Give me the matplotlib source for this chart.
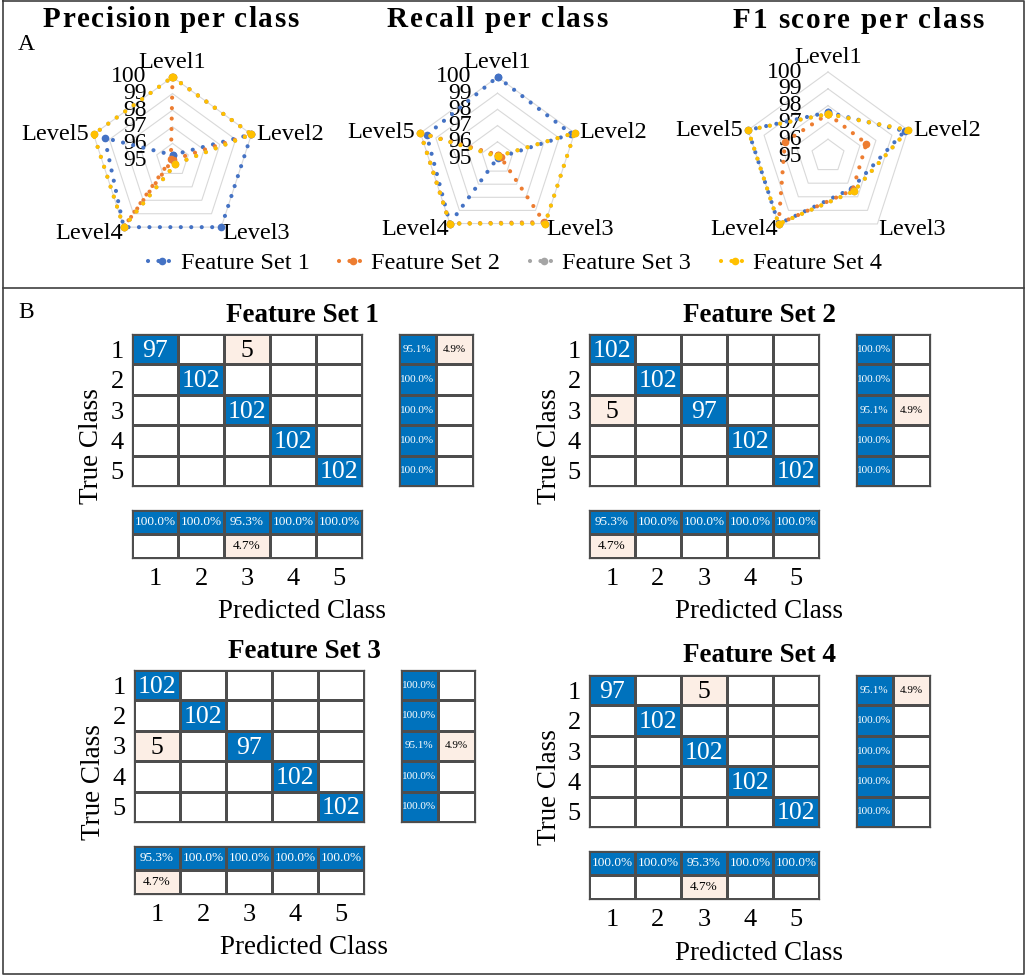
import numpy as np
import matplotlib
matplotlib.use("Agg")
import matplotlib.pyplot as plt
from matplotlib.colors import ListedColormap
from matplotlib.font_manager import FontProperties, findfont, get_font

plt.rcParams['font.family'] = ['Liberation Serif', 'DejaVu Serif']

W, H = 1026, 975

# ---- radar data (A) ----
levels = ['Level1', 'Level2', 'Level3', 'Level4', 'Level5']
set_names = ['Feature Set 1', 'Feature Set 2', 'Feature Set 3', 'Feature Set 4']
set_colors = ['#4472C4', '#ED7D31', '#A5A5A5', '#FFC000']
scale_ticks = [95, 96, 97, 98, 99, 100]

precision_fs1 = [95.3, 100, 100, 100, 99.3]
precision_fs2 = [100, 100, 95.0, 100, 95.1]
precision_fs3 = [100, 100, 95.3, 100, 100]
precision_fs4 = [100, 100, 95.3, 100, 100]

recall_fs1 = [100, 99.8, 95.0, 100, 99.6]
recall_fs2 = [95.2, 95.2, 99.9, 100, 100]
recall_fs3 = [95.1, 100, 100, 100, 100]
recall_fs4 = [95.1, 100, 100, 100, 100]

f1_fs1 = [97.6, 99.8, 97.4, 100, 100]
f1_fs2 = [97.5, 97.4, 97.5, 100, 97.7]
f1_fs3 = [97.5, 100, 97.6, 100, 100]
f1_fs4 = [97.5, 100, 97.6, 100, 100]

# ---- confusion matrices (B) ----
classes = ['1', '2', '3', '4', '5']
cm_fs1 = [[97, 0, 5, 0, 0],
          [0, 102, 0, 0, 0],
          [0, 0, 102, 0, 0],
          [0, 0, 0, 102, 0],
          [0, 0, 0, 0, 102]]
cm_fs2 = [[102, 0, 0, 0, 0],
          [0, 102, 0, 0, 0],
          [5, 0, 97, 0, 0],
          [0, 0, 0, 102, 0],
          [0, 0, 0, 0, 102]]
cm_fs3 = [[102, 0, 0, 0, 0],
          [0, 102, 0, 0, 0],
          [5, 0, 97, 0, 0],
          [0, 0, 0, 102, 0],
          [0, 0, 0, 0, 102]]
cm_fs4 = [[97, 0, 5, 0, 0],
          [0, 102, 0, 0, 0],
          [0, 0, 102, 0, 0],
          [0, 0, 0, 102, 0],
          [0, 0, 0, 0, 102]]

BLUE = '#0072BD'
PINK = '#FCEEE5'
GRIDC = '#4D4D4D'

fig = plt.figure(figsize=(W / 100, H / 100), dpi=100)


def box(left, top, width, height):
    # pixel box (from top-left) -> figure fraction
    return [left / W, 1 - (top + height) / H, width / W, height / H]


def fxy(x, y):
    return x / W, 1 - y / H


# frame and divider
frame = fig.add_axes([0, 0, 1, 1])
frame.set_xlim(0, W)
frame.set_ylim(H, 0)
frame.axis('off')
frame.plot([2.5, 1023.5, 1023.5, 2.5, 2.5], [1, 1, 973.5, 973.5, 1], color='#404040', lw=1.2)
frame.plot([2.5, 1023.5], [288, 288], color='#404040', lw=1.2)
fig.text(*fxy(18, 44), 'A', fontsize=17, va='center', ha='left')
fig.text(*fxy(18, 312), 'B', fontsize=17, va='center', ha='left')


def spaced_title(text, xc, ybase, total_width, size):
    # letter-spaced bold title, like the Excel chart titles
    prop = FontProperties(family='Liberation Serif', weight='bold', size=size)
    font = get_font(findfont(prop))
    font.set_size(size, 100)
    widths = [font.load_char(ord(ch)).linearHoriAdvance / 65536 for ch in text]
    gap = (total_width - sum(widths)) / (len(text) - 1)
    x = xc - total_width / 2
    for ch, w in zip(text, widths):
        if ch != ' ':
            fig.text(*fxy(x, ybase), ch, fontproperties=prop, ha='left', va='baseline')
        x += w + gap


level_offsets = [((0, 9), 'center', 'baseline'),
                 ((5, 0), 'left', 'center'),
                 ((1, -6), 'left', 'center'),
                 ((-1, -6), 'right', 'center'),
                 ((-5, 0), 'right', 'center')]


def draw_radar(cx, cy, radius, series):
    ax = fig.add_axes(box(cx - radius, cy - radius, 2 * radius, 2 * radius), projection='polar')
    ax.set_theta_offset(np.pi / 2)
    ax.set_theta_direction(-1)
    ax.set_ylim(scale_ticks[0], scale_ticks[-1])
    ax.axis('off')
    angles = np.linspace(0, 2 * np.pi, len(levels) + 1)
    for r in scale_ticks[1:]:
        ax.plot(angles, [r] * len(angles), color='#D9D9D9', lw=0.8, clip_on=False, zorder=1)
    handles = []
    for vals, color in zip(series, set_colors):
        ln, = ax.plot(angles, list(vals) + [vals[0]], color=color, lw=3.0,
                      ls=(0, (0.01, 2.5)), dash_capstyle='round',
                      marker='o', ms=5.5, mew=0, clip_on=False, zorder=3)
        handles.append(ln)
    for ang, lab, (off, ha, va) in zip(angles[:-1], levels, level_offsets):
        ax.annotate(lab, xy=(ang, scale_ticks[-1]), xytext=off, textcoords='offset pixels',
                    ha=ha, va=va, fontsize=17.5, annotation_clip=False)
    for t in scale_ticks:
        ax.annotate(str(t), xy=(0, t), xytext=(-26, 0), textcoords='offset pixels',
                    ha='right', va='center', fontsize=17, annotation_clip=False, zorder=2)
    return handles


handles = draw_radar(172.5, 160, 83, [precision_fs1, precision_fs2, precision_fs3, precision_fs4])
draw_radar(497.5, 158, 81, [recall_fs1, recall_fs2, recall_fs3, recall_fs4])
draw_radar(828, 156, 84, [f1_fs1, f1_fs2, f1_fs3, f1_fs4])

spaced_title('Precision per class', 170.5, 27, 255, 21)
spaced_title('Recall per class', 497, 27, 220, 21)
spaced_title('F1 score per class', 858, 28, 251, 21)

fig.legend(handles, set_names, loc='center', bbox_to_anchor=fxy(515, 263), ncol=4,
           frameon=False, fontsize=17.5, handlelength=1.2, handletextpad=0.15,
           columnspacing=1.2, borderpad=0)

# ---- confusion chart panels ----
cell_cmap = ListedColormap(['white', PINK, BLUE])


def grid_axes(ax, kinds):
    n_rows, n_cols = kinds.shape
    ax.pcolormesh(np.arange(n_cols + 1), np.arange(n_rows + 1), kinds, cmap=cell_cmap,
                  vmin=0, vmax=2, edgecolors=GRIDC, linewidth=0.9)
    ax.set_xlim(0, n_cols)
    ax.set_ylim(n_rows, 0)
    for s in ax.spines.values():
        s.set_color(GRIDC)
        s.set_linewidth(0.9)
    ax.tick_params(length=0, labelsize=19)
    ax.set_xticks([])
    ax.set_yticks([])


def draw_confusion(title, cm, left, top):
    cm = np.array(cm)
    n = cm.shape[0]
    main_w, main_h = 230, 152
    sum_off_x, sum_w = 267, 73.5
    sum_off_y, sum_h = 175.5, 48.5

    diag = np.eye(n, dtype=bool)
    kinds = np.where(cm > 0, np.where(diag, 2, 1), 0)
    ax = fig.add_axes(box(left, top, main_w, main_h))
    grid_axes(ax, kinds)
    for i in range(n):
        for j in range(n):
            if cm[i, j] > 0:
                ax.text(j + 0.5, i + 0.55, str(cm[i, j]), ha='center', va='center',
                        fontsize=18.5, color='white' if diag[i, j] else 'black')
    ax.set_yticks(np.arange(n) + 0.5)
    ax.set_yticklabels(classes)
    ax.tick_params(axis='y', pad=6)

    # row summary (per true class)
    row_tot = cm.sum(axis=1)
    recall = np.diag(cm) / row_tot * 100
    row_vals = np.column_stack([recall, 100 - recall])
    row_kinds = np.column_stack([np.full(n, 2), np.where(100 - recall > 0.05, 1, 0)])
    axr = fig.add_axes(box(left + sum_off_x, top, sum_w, main_h))
    grid_axes(axr, row_kinds)
    for i in range(n):
        for j in range(2):
            if row_kinds[i, j] > 0:
                axr.text(j + 0.5, i + 0.5, '%.1f%%' % row_vals[i, j], ha='center', va='center',
                         fontsize=8, color='white' if j == 0 else 'black')

    # column summary (per predicted class)
    col_tot = cm.sum(axis=0)
    prec = np.diag(cm) / col_tot * 100
    col_vals = np.vstack([prec, 100 - prec])
    col_kinds = np.vstack([np.full(n, 2), np.where(100 - prec > 0.05, 1, 0)])
    axc = fig.add_axes(box(left, top + sum_off_y, main_w, sum_h))
    grid_axes(axc, col_kinds)
    for i in range(2):
        for j in range(n):
            if col_kinds[i, j] > 0:
                axc.text(j + 0.5, i + 0.5, '%.1f%%' % col_vals[i, j], ha='center', va='center',
                         fontsize=9.5, color='white' if i == 0 else 'black')
    axc.set_xticks(np.arange(n) + 0.5)
    axc.set_xticklabels(classes)
    axc.tick_params(axis='x', pad=7)

    xmid = left + (sum_off_x + sum_w) / 2
    fig.text(*fxy(xmid, top - 19), title, fontsize=19.5, fontweight='bold', ha='center', va='center')
    fig.text(*fxy(xmid, top + sum_off_y + sum_h + 54), 'Predicted Class', fontsize=19.5,
             ha='center', va='center')
    fig.text(*fxy(left - 40, top + (sum_off_y + sum_h) / 2), 'True Class', fontsize=19.5,
             rotation=90, ha='center', va='center')


draw_confusion('Feature Set 1', cm_fs1, 132, 334)
draw_confusion('Feature Set 2', cm_fs2, 589, 334)
draw_confusion('Feature Set 3', cm_fs3, 134, 670)
draw_confusion('Feature Set 4', cm_fs4, 589, 675)

fig.savefig('out.png', dpi=100)
